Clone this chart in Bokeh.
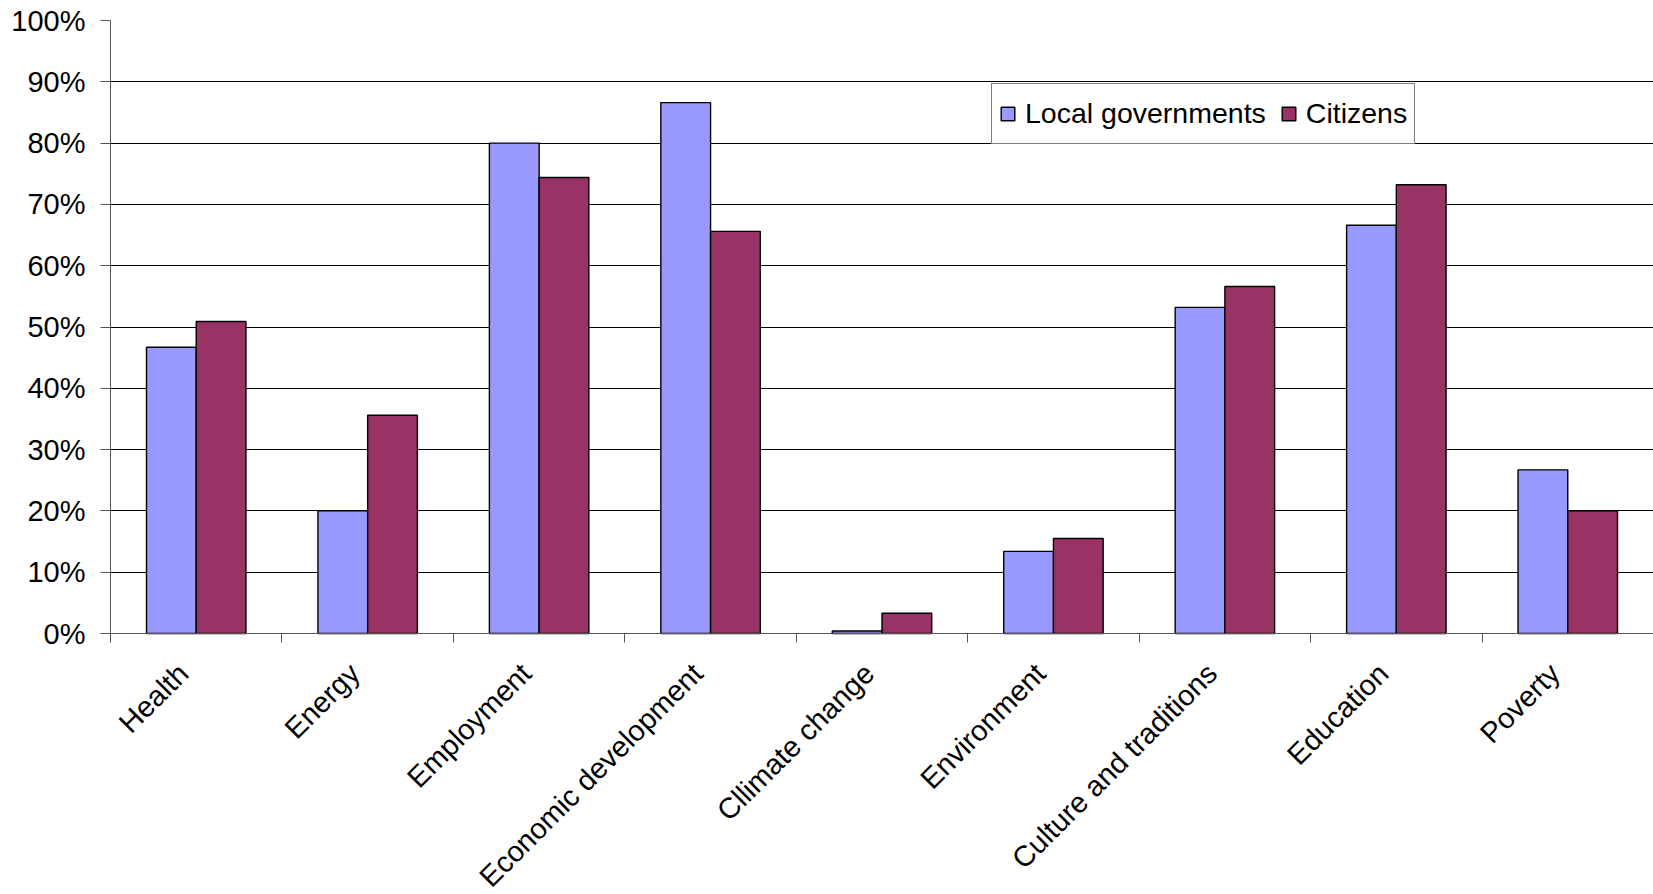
import numpy as np
from bokeh.plotting import figure
from bokeh.models import (ColumnDataSource, Range1d, FixedTicker, PrintfTickFormatter,
                          Legend, LegendItem, Label)
from bokeh.transform import dodge
from bokeh.embed import file_html
from bokeh.resources import INLINE

categories = ["Health", "Energy", "Employment", "Economic development", "Cllimate change",
              "Environment", "Culture and traditions", "Education", "Poverty"]
local_governments = [46.7, 20.0, 80.0, 86.6, 0.4, 13.4, 53.2, 66.6, 26.7]
citizens = [50.9, 35.6, 74.4, 65.6, 3.3, 15.5, 56.6, 73.2, 20.0]
y_ticks = [0, 10, 20, 30, 40, 50, 60, 70, 80, 90, 100]

n = len(categories)
centers = np.arange(n) + 0.5
src = ColumnDataSource(dict(x=centers, lg=local_governments, ci=citizens, cat=categories))

FONT = "Liberation Sans"

# layout (pixels): plot area spans y=20..633 for 0..100 %, category labels below
W, H = 1653, 894
TOP, ZERO_Y, LEFT = 20, 633, 110
px_per_unit = (ZERO_Y - TOP) / 100.0
y_min = -(H - ZERO_Y) / px_per_unit
tick_len = 9

p = figure(width=W, height=H, output_backend="svg", toolbar_location=None,
           x_range=Range1d(0, n), y_range=Range1d(y_min, 100),
           min_border_left=LEFT, min_border_right=0, min_border_top=TOP, min_border_bottom=0)
p.outline_line_color = None

bw = 0.29
r1 = p.vbar(x=dodge("x", -bw / 2, range=p.x_range), top="lg", width=bw, source=src,
            fill_color="#9999FF", line_color="black", line_width=1.4)
r2 = p.vbar(x=dodge("x", bw / 2, range=p.x_range), top="ci", width=bw, source=src,
            fill_color="#993366", line_color="black", line_width=1.4)

# y axis
p.yaxis.ticker = FixedTicker(ticks=y_ticks)
p.yaxis.formatter = PrintfTickFormatter(format="%d%%")
p.yaxis.bounds = (-tick_len / px_per_unit, 100)
p.yaxis.major_tick_out = 10
p.yaxis.major_tick_in = 0
p.yaxis.minor_tick_line_color = None
p.yaxis.major_label_standoff = 15
p.yaxis.major_label_text_font = FONT
p.yaxis.major_label_text_font_size = "29px"
p.yaxis.major_label_text_color = "black"
p.yaxis.axis_line_color = "#555555"
p.yaxis.major_tick_line_color = "#555555"

p.ygrid.ticker = FixedTicker(ticks=y_ticks)
p.ygrid.grid_line_color = "black"
p.ygrid.grid_line_width = 1
p.xgrid.grid_line_color = None

# x axis at 0 %: ticks at category boundaries (drawn downward)
p.xaxis.fixed_location = 0
p.xaxis.ticker = FixedTicker(ticks=[], minor_ticks=list(np.arange(n + 1)))
p.xaxis.major_label_text_font_size = "0px"
p.xaxis.major_tick_line_color = None
p.xaxis.major_tick_out = 0
p.xaxis.major_tick_in = 0
p.xaxis.major_label_standoff = 0
p.xaxis.minor_tick_out = 0
p.xaxis.minor_tick_in = -tick_len
p.xaxis.minor_tick_line_color = "#555555"
p.xaxis.axis_line_color = "#555555"

for cx, name in zip(centers, categories):
    p.add_layout(Label(x=cx, y=0, x_units="data", y_units="data", text=name,
                       angle=np.pi / 4, text_align="right", text_baseline="middle",
                       x_offset=-13, y_offset=-35,
                       text_font=FONT, text_font_size="29px", text_color="black"))

legend = Legend(items=[LegendItem(label="Local governments", renderers=[r1]),
                       LegendItem(label="Citizens", renderers=[r2])],
                orientation="horizontal", location=(881, H - ZERO_Y + 489),
                label_text_font=FONT, label_text_font_size="28.5px",
                label_text_color="black", glyph_width=17, glyph_height=17,
                label_height=45, label_standoff=9, spacing=14, padding=7, margin=0,
                border_line_color="black", border_line_width=1,
                background_fill_alpha=1.0)
p.add_layout(legend)

open("out.html", "w").write(file_html(p, INLINE))
